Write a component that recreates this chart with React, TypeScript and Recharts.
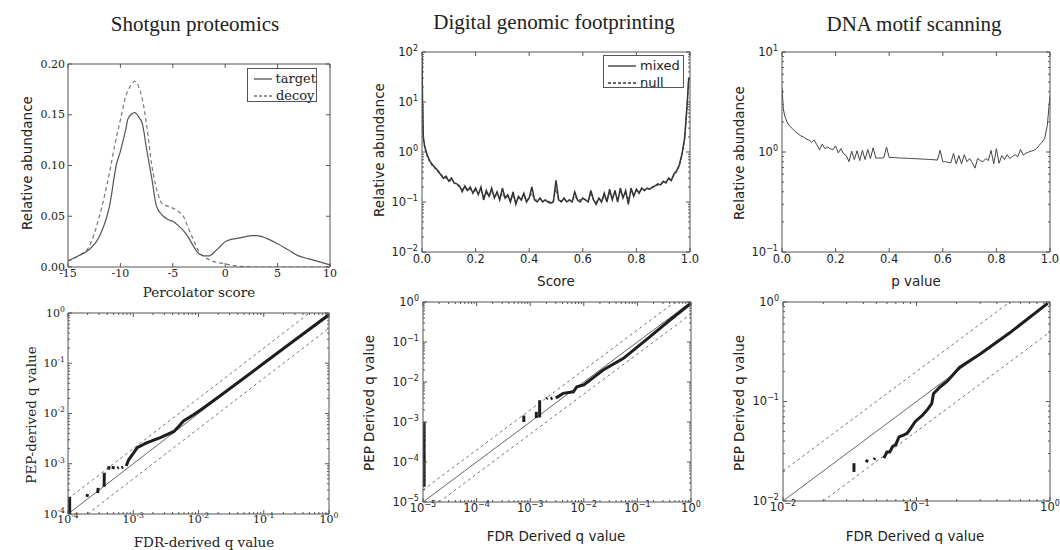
import React from 'react';
import { LineChart, Line, XAxis, YAxis } from 'recharts';

const SANS = '"DejaVu Sans", sans-serif';
const SERIF = '"DejaVu Serif", serif';
const TITLE = '"Liberation Serif", "Times New Roman", serif';
const FRAME = '#555';
const INK = '#222';

// ---------- Panel 1: Shotgun proteomics (Percolator score) ----------
const targetScore = [-15, -14, -13, -12, -11, -10.4, -10, -9.5, -9.27, -8.63, -8.2, -7.9, -7.5, -7, -6.56, -6, -5.5, -5, -4.5, -4, -3.5, -3, -2.5, -2, -1.5, -1, -0.5, 0, 0.5, 1, 1.5, 2, 2.5, 3, 3.5, 4, 5, 6, 7, 8, 9, 10];
const targetAbund = [0.006, 0.011, 0.017, 0.03, 0.062, 0.1, 0.114, 0.135, 0.146, 0.152, 0.147, 0.141, 0.116, 0.087, 0.06, 0.051, 0.047, 0.045, 0.041, 0.036, 0.029, 0.02, 0.013, 0.011, 0.011, 0.015, 0.02, 0.025, 0.027, 0.028, 0.029, 0.03, 0.031, 0.031, 0.03, 0.028, 0.023, 0.017, 0.011, 0.008, 0.005, 0.002];
const decoyScore = [-15, -14, -13, -12, -11, -10.5, -10, -9.5, -9, -8.6, -8.2, -7.9, -7.5, -7, -6.5, -6, -5.5, -5, -4.5, -4, -3.5, -3, -2.5, -2, -1.5, -1, -0.5, 0, 0.5, 1, 1.5, 2, 3, 5, 10];
const decoyAbund = [0.006, 0.011, 0.02, 0.05, 0.095, 0.122, 0.145, 0.168, 0.179, 0.183, 0.176, 0.165, 0.14, 0.1, 0.075, 0.062, 0.06, 0.058, 0.055, 0.05, 0.038, 0.026, 0.015, 0.01, 0.007, 0.005, 0.004, 0.003, 0.002, 0.0012, 0.0006, 0.0002, 0, 0, 0];
const p1XTicks = [-15, -10, -5, 0, 5, 10];
const p1YTicks = [0, 0.05, 0.1, 0.15, 0.2];

// ---------- Panel 2: Digital genomic footprinting (Score) ----------
const scoreGrid = [0, 0.002, 0.005,
  0.01, 0.02, 0.03, 0.04, 0.05, 0.06, 0.07, 0.08, 0.09, 0.10,
  0.11, 0.12, 0.13, 0.14, 0.15, 0.16, 0.17, 0.18, 0.19, 0.20,
  0.21, 0.22, 0.23, 0.24, 0.25, 0.26, 0.27, 0.28, 0.29, 0.30,
  0.31, 0.32, 0.33, 0.34, 0.35, 0.36, 0.37, 0.38, 0.39, 0.40,
  0.41, 0.42, 0.43, 0.44, 0.45, 0.46, 0.47, 0.48, 0.49, 0.50,
  0.51, 0.52, 0.53, 0.54, 0.55, 0.56, 0.57, 0.58, 0.59, 0.60,
  0.61, 0.62, 0.63, 0.64, 0.65, 0.66, 0.67, 0.68, 0.69, 0.70,
  0.71, 0.72, 0.73, 0.74, 0.75, 0.76, 0.77, 0.78, 0.79, 0.80,
  0.81, 0.82, 0.83, 0.84, 0.85, 0.86, 0.87, 0.88, 0.89, 0.90,
  0.91, 0.92, 0.93, 0.94, 0.95, 0.96, 0.97, 0.98, 0.99, 0.995, 1.0];
const mixedAbund = [80, 10, 2.0,
  1.3, 0.85, 0.65, 0.55, 0.48, 0.42, 0.35, 0.30, 0.33, 0.26,
  0.30, 0.24, 0.23, 0.21, 0.16, 0.21, 0.17, 0.20, 0.15, 0.19,
  0.14, 0.20, 0.11, 0.17, 0.13, 0.19, 0.12, 0.16, 0.11, 0.19,
  0.12, 0.14, 0.10, 0.16, 0.09, 0.13, 0.11, 0.15, 0.10, 0.12,
  0.20, 0.11, 0.10, 0.12, 0.10, 0.11, 0.10, 0.095, 0.10, 0.27,
  0.11, 0.10, 0.12, 0.10, 0.11, 0.10, 0.16, 0.11, 0.10, 0.12,
  0.11, 0.10, 0.17, 0.11, 0.09, 0.12, 0.10, 0.15, 0.10, 0.18,
  0.11, 0.17, 0.10, 0.19, 0.12, 0.17, 0.09, 0.19, 0.13, 0.18,
  0.15, 0.19, 0.17, 0.19, 0.18, 0.20, 0.21, 0.23, 0.22, 0.26,
  0.24, 0.30, 0.27, 0.36, 0.42, 0.55, 0.9, 1.9, 10, 30, 30];
const nullAbund = [70, 9, 1.8,
  1.2, 0.8, 0.62, 0.52, 0.46, 0.40, 0.36, 0.31, 0.30, 0.27,
  0.26, 0.24, 0.22, 0.20, 0.18, 0.19, 0.17, 0.18, 0.16, 0.17,
  0.15, 0.17, 0.13, 0.15, 0.13, 0.16, 0.13, 0.14, 0.12, 0.15,
  0.12, 0.13, 0.11, 0.13, 0.10, 0.12, 0.11, 0.13, 0.11, 0.12,
  0.15, 0.11, 0.11, 0.115, 0.105, 0.11, 0.105, 0.10, 0.105, 0.18,
  0.11, 0.105, 0.115, 0.105, 0.11, 0.105, 0.13, 0.115, 0.11, 0.115,
  0.11, 0.105, 0.14, 0.11, 0.10, 0.115, 0.105, 0.13, 0.11, 0.15,
  0.12, 0.15, 0.11, 0.16, 0.13, 0.15, 0.11, 0.16, 0.14, 0.17,
  0.155, 0.18, 0.17, 0.185, 0.18, 0.195, 0.205, 0.22, 0.22, 0.25,
  0.25, 0.28, 0.28, 0.34, 0.40, 0.52, 0.85, 1.8, 9, 28, 28];
const unitXTicks = [0, 0.2, 0.4, 0.6, 0.8, 1.0];

// ---------- Panel 3: DNA motif scanning (p value) ----------
const pGrid = [0, 0.005,
  0.01, 0.02, 0.03, 0.04, 0.05, 0.06, 0.07, 0.08, 0.09, 0.10,
  0.11, 0.12, 0.13, 0.14, 0.15, 0.16, 0.17, 0.18, 0.19, 0.20,
  0.21, 0.22, 0.23, 0.24, 0.25, 0.26, 0.27, 0.28, 0.29, 0.30,
  0.31, 0.32, 0.33, 0.34, 0.35, 0.36, 0.37, 0.38, 0.39, 0.40,
  0.41, 0.42, 0.43, 0.44, 0.45, 0.46, 0.47, 0.48, 0.49, 0.50,
  0.51, 0.52, 0.53, 0.54, 0.55, 0.56, 0.57, 0.58, 0.59, 0.60,
  0.61, 0.62, 0.63, 0.64, 0.65, 0.66, 0.67, 0.68, 0.69, 0.70,
  0.71, 0.72, 0.73, 0.74, 0.75, 0.76, 0.77, 0.78, 0.79, 0.80,
  0.81, 0.82, 0.83, 0.84, 0.85, 0.86, 0.87, 0.88, 0.89, 0.90,
  0.91, 0.92, 0.93, 0.94, 0.95, 0.96, 0.97, 0.98, 0.99, 1.0];
const motifAbund = [4.4, 2.7,
  2.3, 1.95, 1.8, 1.7, 1.6, 1.52, 1.45, 1.42, 1.35, 1.32,
  1.25, 1.32, 1.18, 1.05, 1.2, 1.08, 1.12, 1.08, 1.05, 1.15,
  0.98, 1.08, 0.96, 0.92, 0.8, 1.02, 0.84, 1.03, 0.82, 1.04,
  0.84, 1.06, 0.86, 1.1, 0.87, 0.87, 0.87, 0.88, 1.12, 0.88,
  0.88, 0.88, 0.875, 0.87, 0.87, 0.865, 0.865, 0.86, 0.86, 0.855,
  0.855, 0.85, 0.85, 0.845, 0.84, 0.84, 0.835, 0.83, 1.04, 0.8,
  0.8, 0.79, 0.78, 0.97, 0.76, 0.92, 0.76, 0.94, 0.8, 0.86,
  0.78, 0.69, 0.86, 0.82, 0.8, 0.86, 0.82, 1.04, 0.76, 1.08,
  0.77, 0.92, 0.84, 0.94, 0.86, 0.9, 0.94, 0.9, 1.06, 0.93,
  0.97, 1.0, 1.02, 1.04, 1.08, 1.17, 1.25, 1.36, 1.85, 3.7];

// ---------- Panel 4: Shotgun q values (FDR vs PEP) ----------
const p4Diag = [[1e-4, 1e-4], [1, 1]];
const p4Upper = [[1e-4, 2e-4], [0.5, 1]];
const p4Lower = [[2e-4, 1e-4], [1, 0.5]];
const p4Pieces = [
  [[1.06e-4, 1e-4], [1.06e-4, 2.2e-4]],
  [[1.95e-4, 2.2e-4], [2.0e-4, 2.5e-4]],
  [[2.85e-4, 2.6e-4], [2.9e-4, 3.3e-4]],
  [[3.58e-4, 3.5e-4], [3.6e-4, 6.6e-4]],
  [[4.2e-4, 7.6e-4], [4.25e-4, 9e-4]],
  [[4.9e-4, 7.8e-4], [4.95e-4, 9e-4]],
  [[5.7e-4, 8.2e-4], [6.0e-4, 8.5e-4]],
  [[6.6e-4, 8.3e-4], [7.0e-4, 8.6e-4]],
];
const p4Main = [[7.8e-4, 9e-4], [8.5e-4, 1.2e-3], [1.0e-3, 1.6e-3], [1.15e-3, 2.1e-3], [1.6e-3, 2.6e-3], [2.6e-3, 3.3e-3], [4.2e-3, 4.4e-3], [5.0e-3, 5.6e-3], [5.9e-3, 7.1e-3], [8.5e-3, 9.6e-3], [1.2e-2, 1.3e-2], [2e-2, 2.1e-2], [5e-2, 5.1e-2], [0.1, 0.1], [0.3, 0.29], [1, 0.92]];

// ---------- Panel 5: Footprinting q values ----------
const p5Diag = [[1e-5, 1e-5], [1, 1]];
const p5Upper = [[1e-5, 2e-5], [0.5, 1]];
const p5Lower = [[2e-5, 1e-5], [1, 0.5]];
const p5Pieces = [
  [[1.05e-5, 2.4e-5], [1.05e-5, 1e-3]],
  [[7.6e-4, 1.0e-3], [7.6e-4, 1.45e-3]],
  [[1.3e-3, 1.26e-3], [1.3e-3, 1.8e-3]],
  [[1.5e-3, 1.3e-3], [1.5e-3, 3.5e-3]],
  [[2.0e-3, 3.8e-3], [2.1e-3, 4.0e-3]],
  [[2.4e-3, 3.8e-3], [2.6e-3, 4.0e-3]],
];
const p5Main = [[3.0e-3, 4.0e-3], [3.3e-3, 4.3e-3], [4.1e-3, 5.2e-3], [6.4e-3, 5.7e-3], [7.4e-3, 7.6e-3], [1e-2, 8.5e-3], [2.3e-2, 2e-2], [5.5e-2, 3.9e-2], [0.17, 0.135], [0.4, 0.35], [1, 0.93]];

// ---------- Panel 6: Motif q values ----------
const p6Diag = [[0.01, 0.01], [1, 1]];
const p6Upper = [[0.01, 0.02], [0.5, 1]];
const p6Lower = [[0.02, 0.01], [1, 0.5]];
const p6Pieces = [
  [[0.034, 0.0196], [0.034, 0.024]],
  [[0.042, 0.0245], [0.043, 0.026]],
  [[0.048, 0.026], [0.049, 0.027]],
];
const p6Main = [[0.057, 0.027], [0.06, 0.031], [0.063, 0.031], [0.066, 0.035], [0.07, 0.037], [0.074, 0.044], [0.08, 0.046], [0.085, 0.048], [0.09, 0.053], [0.098, 0.063], [0.11, 0.072], [0.12, 0.082], [0.13, 0.095], [0.134, 0.12], [0.15, 0.14], [0.17, 0.16], [0.21, 0.22], [0.3, 0.3], [0.5, 0.49], [0.96, 0.97]];

// ---------- helpers ----------
const zipXY = (xs: number[], ys: number[]) => xs.map((x, i) => ({ x, y: ys[i] }));
const toPts = (arr: number[][]) => arr.map(([x, y]) => ({ x, y }));

function logTicks(lo: number, hi: number) {
  const out: number[] = [];
  for (let e = lo; e <= hi; e++) {
    for (let m = 1; m <= 9; m++) {
      if (e === hi && m > 1) break;
      out.push(Number((m * Math.pow(10, e)).toPrecision(6)));
    }
  }
  return out;
}
const isDecade = (v: number) => Math.abs(Math.log10(v) - Math.round(Math.log10(v))) < 1e-6;

type Side = 'bottom' | 'left' | 'top' | 'right';
type LabelFn = (v: number, size: number) => React.ReactNode;
interface AxisCfg { log?: boolean; label: LabelFn; font: string; size: number; gap: number }

const fmtFixed = (d: number): LabelFn => (v) => v.toFixed(d);
const fmtInt: LabelFn = (v) => String(v);
const fmtPow = (minus: string): LabelFn => (v, size) => {
  const e = Math.round(Math.log10(v));
  return [
    <tspan key="b">10</tspan>,
    <tspan key="e" dy={-size * 0.45} fontSize={size * 0.7}>{e < 0 ? minus + Math.abs(e) : String(e)}</tspan>,
  ];
};

function makeTick(side: Side, cfg: AxisCfg, withLabel: boolean) {
  return (props: any) => {
    const { x, y, payload } = props;
    const v = Number(payload?.value);
    const major = !cfg.log || isDecade(v);
    const len = major ? 4 : 2;
    let x2 = x, y2 = y;
    if (side === 'bottom') y2 = y - len;
    else if (side === 'top') y2 = y + len;
    else if (side === 'left') x2 = x + len;
    else x2 = x - len;
    const show = withLabel && major;
    return (
      <g>
        <line x1={x} y1={y} x2={x2} y2={y2} stroke={FRAME} strokeWidth={1} />
        {show && side === 'bottom' && (
          <text x={x} y={y + cfg.gap} dy="0.71em" textAnchor="middle" fontFamily={cfg.font} fontSize={cfg.size} fill={INK}>
            {cfg.label(v, cfg.size)}
          </text>
        )}
        {show && side === 'left' && (
          <text x={x - cfg.gap} y={y} dy="0.34em" textAnchor="end" fontFamily={cfg.font} fontSize={cfg.size} fill={INK}>
            {cfg.label(v, cfg.size)}
          </text>
        )}
      </g>
    );
  };
}

interface Box { x: number; y: number; w: number; h: number }
interface PanelProps {
  box: Box;
  xDomain: [number, number];
  yDomain: [number, number];
  xTicks: number[];
  yTicks: number[];
  xCfg: AxisCfg;
  yCfg: AxisCfg;
  children: React.ReactNode;
}

function Panel({ box, xDomain, yDomain, xTicks, yTicks, xCfg, yCfg, children }: PanelProps) {
  const L = 56, R = 14, T = 14, B = 26;
  const W = box.w + L + R, H = box.h + T + B;
  const axisLine = { stroke: FRAME, strokeWidth: 1 };
  const common = { type: 'number' as const, allowDataOverflow: true, interval: 0 as const, tickSize: 0, tickMargin: 0, tickLine: false, axisLine };
  return (
    <div style={{ position: 'absolute', left: box.x - L, top: box.y - T, width: W, height: H }}>
      <LineChart width={W} height={H} margin={{ top: 0, right: 0, bottom: 0, left: 0 }} style={{ overflow: 'visible' }}>
        <XAxis xAxisId="b" dataKey="x" orientation="bottom" height={B} scale={xCfg.log ? 'log' : 'linear'} domain={xDomain} ticks={xTicks} tick={makeTick('bottom', xCfg, true)} {...common} />
        <XAxis xAxisId="t" dataKey="x" orientation="top" height={T} scale={xCfg.log ? 'log' : 'linear'} domain={xDomain} ticks={xTicks} tick={makeTick('top', xCfg, false)} {...common} />
        <YAxis yAxisId="l" orientation="left" width={L} scale={yCfg.log ? 'log' : 'linear'} domain={yDomain} ticks={yTicks} tick={makeTick('left', yCfg, true)} {...common} />
        <YAxis yAxisId="r" orientation="right" width={R} scale={yCfg.log ? 'log' : 'linear'} domain={yDomain} ticks={yTicks} tick={makeTick('right', yCfg, false)} {...common} />
        {children}
      </LineChart>
    </div>
  );
}

function series(key: string, data: { x: number; y: number }[], stroke: string, width: number, dash?: string, type: 'linear' | 'monotone' = 'linear') {
  return (
    <Line key={key} xAxisId="b" yAxisId="l" data={data} dataKey="y" type={type} stroke={stroke} strokeWidth={width}
      strokeDasharray={dash} dot={false} activeDot={false} isAnimationActive={false} legendType="none" />
  );
}

function qSeries(prefix: string, diag: number[][], upper: number[][], lower: number[][], pieces: number[][][], main: number[][]) {
  return [
    series(prefix + 'd', toPts(diag), '#666', 1),
    series(prefix + 'u', toPts(upper), '#777', 1, '3 3'),
    series(prefix + 'w', toPts(lower), '#777', 1, '3 3'),
    ...pieces.map((p, i) => series(prefix + 'p' + i, toPts(p), '#1e1e1e', 3)),
    series(prefix + 'm', toPts(main), '#1e1e1e', 3),
  ];
}

const Txt = ({ x, y, font, size, rotate, children }: { x: number; y: number; font: string; size: number; rotate?: boolean; children: React.ReactNode }) => (
  <div style={{
    position: 'absolute', left: x, top: y, transform: `translate(-50%, -50%)${rotate ? ' rotate(-90deg)' : ''}`,
    fontFamily: font, fontSize: size, whiteSpace: 'nowrap', color: INK, lineHeight: 1,
  }}>{children}</div>
);

const LegendRow = ({ label, dash, color, font, size, sample }: { label: string; dash?: string; color: string; font: string; size: number; sample: number }) => (
  <div style={{ display: 'flex', alignItems: 'center', height: size + 4 }}>
    <svg width={sample} height={6} style={{ marginRight: 4 }}>
      <line x1={0} y1={3} x2={sample} y2={3} stroke={color} strokeWidth={1.3} strokeDasharray={dash} />
    </svg>
    <span style={{ fontFamily: font, fontSize: size, color: INK, lineHeight: 1 }}>{label}</span>
  </div>
);

export default function App() {
  const serifX: AxisCfg = { label: fmtInt, font: SERIF, size: 11, gap: 2 };
  const serifY: AxisCfg = { label: fmtFixed(2), font: SERIF, size: 11, gap: 3 };
  const sansUnit: AxisCfg = { label: fmtFixed(1), font: SANS, size: 11.5, gap: 3 };
  const sansLogY: AxisCfg = { log: true, label: fmtPow('\u2212'), font: SANS, size: 11.5, gap: 4 };
  const sansLogX: AxisCfg = { log: true, label: fmtPow('\u2212'), font: SANS, size: 11.5, gap: 2 };
  const serifLogX: AxisCfg = { log: true, label: fmtPow('-'), font: SERIF, size: 11, gap: 1 };
  const serifLogY: AxisCfg = { log: true, label: fmtPow('-'), font: SERIF, size: 11, gap: 3 };

  return (
    <div style={{ position: 'absolute', left: 0, top: 0, width: 1060, height: 550, background: '#fff', overflow: 'hidden' }}>
      <Txt x={195} y={24} font={TITLE} size={21}>Shotgun proteomics</Txt>
      <Txt x={554} y={22} font={TITLE} size={21}>Digital genomic footprinting</Txt>
      <Txt x={914} y={24} font={TITLE} size={21}>DNA motif scanning</Txt>

      <Panel box={{ x: 68, y: 64, w: 262, h: 203 }} xDomain={[-15, 10]} yDomain={[0, 0.2]} xTicks={p1XTicks} yTicks={p1YTicks} xCfg={serifX} yCfg={serifY}>
        {[
          series('decoy', zipXY(decoyScore, decoyAbund), '#777', 1.2, '4 3', 'monotone'),
          series('target', zipXY(targetScore, targetAbund), '#555', 1.2, undefined, 'monotone'),
        ]}
      </Panel>

      <Panel box={{ x: 422, y: 52, w: 268, h: 200 }} xDomain={[0, 1]} yDomain={[0.01, 100]} xTicks={unitXTicks} yTicks={logTicks(-2, 2)} xCfg={sansUnit} yCfg={sansLogY}>
        {[
          series('null', zipXY(scoreGrid, nullAbund), '#666', 1.2, '3 2'),
          series('mixed', zipXY(scoreGrid, mixedAbund), '#333', 1.5),
        ]}
      </Panel>

      <Panel box={{ x: 782, y: 52, w: 268, h: 200 }} xDomain={[0, 1]} yDomain={[0.1, 10]} xTicks={unitXTicks} yTicks={logTicks(-1, 1)} xCfg={sansUnit} yCfg={sansLogY}>
        {[series('motif', zipXY(pGrid, motifAbund), '#444', 1)]}
      </Panel>

      <Panel box={{ x: 68, y: 313, w: 261, h: 201 }} xDomain={[1e-4, 1]} yDomain={[1e-4, 1]} xTicks={logTicks(-4, 0)} yTicks={logTicks(-4, 0)} xCfg={serifLogX} yCfg={serifLogY}>
        {qSeries('a', p4Diag, p4Upper, p4Lower, p4Pieces, p4Main)}
      </Panel>

      <Panel box={{ x: 423, y: 302, w: 268, h: 200 }} xDomain={[1e-5, 1]} yDomain={[1e-5, 1]} xTicks={logTicks(-5, 0)} yTicks={logTicks(-5, 0)} xCfg={sansLogX} yCfg={sansLogY}>
        {qSeries('b', p5Diag, p5Upper, p5Lower, p5Pieces, p5Main)}
      </Panel>

      <Panel box={{ x: 783, y: 302, w: 267, h: 199 }} xDomain={[0.01, 1]} yDomain={[0.01, 1]} xTicks={logTicks(-2, 0)} yTicks={logTicks(-2, 0)} xCfg={sansLogX} yCfg={sansLogY}>
        {qSeries('c', p6Diag, p6Upper, p6Lower, p6Pieces, p6Main)}
      </Panel>

      {/* axis labels */}
      <Txt x={28} y={163} font={SANS} size={13.5} rotate>Relative abundance</Txt>
      <Txt x={199} y={293} font={SERIF} size={13.5}>Percolator score</Txt>
      <Txt x={380} y={150} font={SANS} size={13.5} rotate>Relative abundance</Txt>
      <Txt x={556} y={282} font={SANS} size={13.5}>Score</Txt>
      <Txt x={740} y={153} font={SANS} size={13.5} rotate>Relative abundance</Txt>
      <Txt x={916} y={282} font={SANS} size={13.5}>p value</Txt>
      <Txt x={32} y={415} font={SERIF} size={13.5} rotate>PEP-derived q value</Txt>
      <Txt x={204} y={543} font={SERIF} size={13.5}>FDR-derived q value</Txt>
      <Txt x={370} y={403} font={SANS} size={13.5} rotate>PEP Derived q value</Txt>
      <Txt x={556} y={537} font={SANS} size={13.5}>FDR Derived q value</Txt>
      <Txt x={740} y={403} font={SANS} size={13.5} rotate>PEP Derived q value</Txt>
      <Txt x={915} y={537} font={SANS} size={13.5}>FDR Derived q value</Txt>

      {/* legends */}
      <div style={{ position: 'absolute', left: 247, top: 68, width: 70, height: 34, border: `1px solid ${FRAME}`, background: '#fff', padding: '1px 0 0 6px', boxSizing: 'border-box' }}>
        <LegendRow label="target" color="#555" font={SERIF} size={13} sample={18} />
        <LegendRow label="decoy" color="#777" dash="3 2" font={SERIF} size={13} sample={18} />
      </div>
      <div style={{ position: 'absolute', left: 603, top: 55, width: 81, height: 33, border: `1px solid ${FRAME}`, background: '#fff', padding: '1px 0 0 4px', boxSizing: 'border-box' }}>
        <LegendRow label="mixed" color="#333" font={SANS} size={13} sample={28} />
        <LegendRow label="null" color="#333" dash="3 2" font={SANS} size={13} sample={28} />
      </div>
    </div>
  );
}
